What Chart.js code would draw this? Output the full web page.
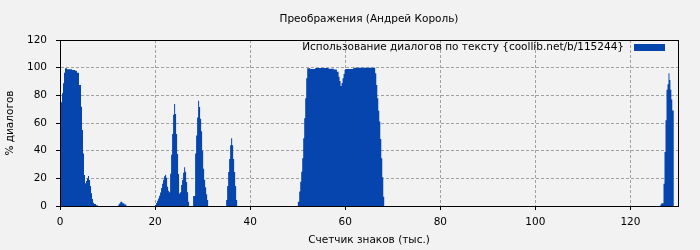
<!DOCTYPE html>
<html><head><meta charset="utf-8">
<script src="https://cdn.jsdelivr.net/npm/chart.js@4"></script>
<style>html,body{margin:0;padding:0;background:#f2f2f2;} canvas{display:block}</style>
</head><body>
<canvas id="c" width="700" height="250"></canvas>
<script>
const chartTitle = 'Преображения (Андрей Король)';
const seriesLabel = 'Использование диалогов по тексту {coollib.net/b/115244}';
const xTitle = 'Счетчик знаков (тыс.)';
const yTitle = '% диалогов';
const xTicks = [0, 20, 40, 60, 80, 100, 120];
const yTicks = [0, 20, 40, 60, 80, 100, 120];

// left edge of each step (thousand characters)
const charsK = [
  0, 0.42, 0.63, 0.84, 1.05, 1.47, 2.53, 3.16, 3.58, 4.0, 4.42, 4.63, 4.84, 5.05, 5.26, 5.47, 5.68, 5.89, 6.11, 6.32, 6.53, 6.74, 6.95, 7.16, 7.58, 8.0,
  12.28, 12.49, 12.7, 13.12, 13.54, 13.96,
  20.0, 20.21, 20.42, 20.63, 20.84, 21.05, 21.26, 21.47, 21.68, 21.89, 22.11, 22.32, 22.53, 22.74, 22.95, 23.16, 23.37, 23.58, 23.79, 24.0,
  24.21, 24.42, 24.63, 24.84, 25.05, 25.26, 25.47, 25.68, 25.89, 26.11, 26.32, 26.53, 26.74, 26.95, 27.16,
  28.0, 28.42, 28.63, 28.84, 29.05, 29.26, 29.47, 29.68, 29.89, 30.11, 30.32, 30.53, 30.74, 30.95, 31.16,
  34.95, 35.16, 35.37, 35.58, 35.79, 36.0, 36.21, 36.42, 36.63, 36.84, 37.05, 37.26,
  50.03, 50.32, 50.53, 50.74, 50.95, 51.16, 51.37, 51.58, 51.79, 52.0, 52.63, 53.68, 56.49, 57.6, 58.25, 58.6, 58.81, 59.02, 59.23, 59.44, 59.65, 59.86, 60.0, 61.7,
  66.3, 66.53, 66.74, 66.95, 67.16, 67.37, 67.58, 67.79, 68.0, 68.2,
  126.3, 126.5, 126.95, 127.16, 127.37, 127.58, 127.79, 128.0, 128.2, 128.4, 128.6, 128.8, 129.1, 130
];
// share of dialogue (%) in each step
const dialogPct = [
  75, 81.5, 88.7, 96.4, 99.5, 98.8, 98.3, 97.8, 96.4, 87.5, 71.8, 55, 38, 22.4, 16.4, 18, 20, 21.7, 18.8, 14.5, 9.2, 5, 2.4, 1.4, 0.5, 0,
  1, 2, 3, 2, 1, 0,
  0.7, 2.2, 3.8, 5.5, 7.4, 9.8, 13, 16, 19, 21.5, 22.6, 20.5, 14, 11, 10, 23.4, 37, 52, 66, 73.8,
  66.5, 52, 37.6, 23.1, 9, 10, 15.2, 18.8, 24, 28, 24.8, 17.4, 10, 3.1, 0,
  7.2, 38, 51, 64, 76, 71.5, 63, 54, 40, 27, 19, 13.5, 8.5, 4.3, 0,
  4.3, 14.5, 24.6, 34, 44, 49, 44, 34, 24.6, 14.5, 4.3, 0,
  3.1, 10.4, 17.6, 24.8, 34.5, 48.9, 63.4, 77.9, 92.3, 99.6, 99, 99.7, 99.3, 98.6, 97, 93.5, 90.4, 86.8, 89, 92.3, 95.4, 98.3, 99, 100,
  96, 87.5, 77.9, 68.9, 61, 48.4, 34.5, 20.7, 6.7, 0,
  1, 2, 16, 39, 62, 84, 88, 96, 91, 84, 77, 69, 0, 0
];

const FONT = 'DejaVu Sans';
const FSIZE = 10.5;
const BLUE = '#0645ad';
const BG = '#f2f2f2';

const points = charsK.map((x, i) => ({x: x, y: dialogPct[i]}));

const bgPlugin = {
  id: 'bg',
  beforeDraw(chart) {
    const c = chart.ctx;
    c.save(); c.fillStyle = BG; c.fillRect(0, 0, chart.width, chart.height); c.restore();
  }
};
const framePlugin = {
  id: 'frame',
  afterDraw(chart) {
    const c = chart.ctx, a = chart.chartArea;
    c.save();
    c.strokeStyle = '#000'; c.lineWidth = 1;
    c.strokeRect(Math.round(a.left) + 0.5, Math.round(a.top) + 0.5, Math.round(a.right - a.left), Math.round(a.bottom - a.top));
    // legend inside the plot, top right
    const ds = chart.data.datasets[0];
    c.font = FSIZE + 'px "' + FONT + '"';
    c.fillStyle = '#000'; c.textAlign = 'right'; c.textBaseline = 'middle';
    const boxW = 31, boxH = 7;
    const boxX = a.right - 13 - boxW;
    const cy = a.top + 7.5;
    c.fillText(ds.label, boxX - 10, cy);
    c.fillStyle = ds.backgroundColor;
    c.fillRect(boxX, cy - boxH / 2, boxW, boxH);
    c.restore();
  }
};

new Chart(document.getElementById('c'), {
  type: 'line',
  data: {
    datasets: [{
      label: seriesLabel,
      data: points,
      stepped: 'before',
      fill: 'origin',
      backgroundColor: BLUE,
      borderColor: BLUE,
      borderWidth: 0,
      pointRadius: 0
    }]
  },
  options: {
    responsive: false,
    animation: false,
    devicePixelRatio: 1,
    layout: {padding: {left: 0, right: 22, top: 0, bottom: 0}},
    plugins: {
      legend: {display: false},
      tooltip: {enabled: false},
      title: {
        display: true, text: chartTitle, fullSize: false, color: '#000',
        font: {family: FONT, size: FSIZE, weight: 'normal', lineHeight: 1.2},
        padding: {top: 12.7, bottom: 14.7}
      }
    },
    scales: {
      x: {
        type: 'linear', min: 0, max: 130,
        afterBuildTicks: s => { s.ticks = xTicks.map(v => ({value: v})); },
        afterFit: s => { s.height = 44; },
        grid: {color: '#a0a0a0', lineWidth: 1, tickColor: '#000', tickLength: 4},
        border: {display: true, color: '#000', dash: [3, 2]},
        ticks: {color: '#000', font: {family: FONT, size: FSIZE}, padding: 6, maxRotation: 0, autoSkip: false},
        title: {display: true, text: xTitle, color: '#000', font: {family: FONT, size: FSIZE}, padding: {top: 0, bottom: 3.7}}
      },
      y: {
        type: 'linear', min: 0, max: 120,
        afterBuildTicks: s => { s.ticks = yTicks.map(v => ({value: v})); },
        afterFit: s => { s.width = 60; },
        grid: {color: '#a0a0a0', lineWidth: 1, tickColor: '#000', tickLength: 4},
        border: {display: true, color: '#000', dash: [3, 2]},
        ticks: {color: '#000', font: {family: FONT, size: FSIZE}, padding: 9, autoSkip: false},
        title: {display: true, text: yTitle, color: '#000', font: {family: FONT, size: FSIZE}, padding: {top: 3.7, bottom: 0}}
      }
    }
  },
  plugins: [bgPlugin, framePlugin]
});
</script>
</body></html>
